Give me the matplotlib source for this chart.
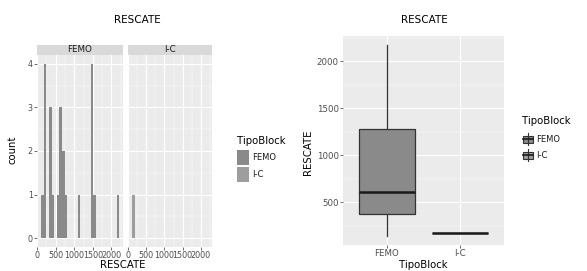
import numpy as np
import matplotlib.pyplot as plt
from matplotlib.patches import Rectangle
from matplotlib.lines import Line2D

groups = ["FEMO", "I-C"]
femo_rescate = [145, 205, 215, 230, 240, 365, 375, 385, 420, 570, 605, 612, 650,
                690, 720, 770, 1110, 1450, 1470, 1480, 1495, 1530, 2170]
ic_rescate = [175]
fill_colors = {"FEMO": "#8a8a8a", "I-C": "#9e9e9e"}
x_breaks = [0, 500, 1000, 1500, 2000]
count_breaks = [0, 1, 2, 3, 4]
box_breaks = [500, 1000, 1500, 2000]

W, H = 587, 271
fig = plt.figure(figsize=(W / 100, H / 100), dpi=100)


def px_box(x0, y0, x1, y1):
    # pixel box (top-left origin) -> figure fraction rect
    return [x0 / W, 1 - y1 / H, (x1 - x0) / W, (y1 - y0) / H]


def ftext(x, y, s, **kw):
    fig.text(x / W, 1 - y / H, s, **kw)


def gg_style(ax, lsize=5.8):
    ax.set_facecolor("#ebebeb")
    for s in ax.spines.values():
        s.set_visible(False)
    ax.grid(which="major", color="white", lw=0.8)
    ax.grid(which="minor", color="white", lw=0.35)
    ax.set_axisbelow(True)
    ax.tick_params(which="major", length=2, width=0.5, color="#333333",
                   labelsize=lsize, labelcolor="#4d4d4d", pad=1)
    ax.tick_params(which="minor", length=0)


# ---- left: faceted histogram ----
data = {"FEMO": femo_rescate, "I-C": ic_rescate}
all_vals = np.array(femo_rescate + ic_rescate)
lo, hi = all_vals.min(), all_vals.max()
bw = (hi - lo) / 29
edges = lo - bw / 2 + bw * np.arange(31)
span = edges[-1] - edges[0]

panels = [(37, 123), (128, 212)]
for i, g in enumerate(groups):
    x0, x1 = panels[i]
    ax = fig.add_axes(px_box(x0, 55, x1, 247))
    gg_style(ax)
    ax.hist(data[g], bins=edges, color=fill_colors[g], edgecolor="none")
    ax.set_xlim(-5, edges[-1] + 0.05 * span)
    ax.set_ylim(-0.2, 4.2)
    ax.set_xticks(x_breaks)
    ax.set_xticks([250, 750, 1250, 1750, 2250], minor=True)
    ax.set_yticks(count_breaks)
    ax.set_yticks([0.5, 1.5, 2.5, 3.5], minor=True)
    if i > 0:
        ax.tick_params(axis="y", which="both", left=False, labelleft=False)
    # strip
    sax = fig.add_axes(px_box(x0, 45, x1, 55))
    sax.set_facecolor("#d9d9d9")
    sax.set_xticks([])
    sax.set_yticks([])
    for s in sax.spines.values():
        s.set_visible(False)
    sax.text(0.5, 0.5, g, transform=sax.transAxes, ha="center", va="center",
             fontsize=6.3, color="#1a1a1a")

ftext(137, 20, "RESCATE", ha="center", va="center", fontsize=7.5)
ftext(12, 150, "count", ha="center", va="center", rotation=90, fontsize=7.3)
ftext(123, 265, "RESCATE", ha="center", va="center", fontsize=7.3)

# left legend
ftext(237, 141, "TipoBlock", ha="left", va="center", fontsize=7.3)
for k, g in enumerate(groups):
    ky = 150 + k * 17
    fig.add_artist(Rectangle((237 / W, 1 - (ky + 15) / H), 12 / W, 15 / H,
                             transform=fig.transFigure, facecolor=fill_colors[g],
                             edgecolor="none"))
    ftext(252, ky + 7.5, g, ha="left", va="center", fontsize=6, color="#1a1a1a")

# ---- right: boxplot ----
bx = fig.add_axes(px_box(343, 36, 504, 245))
gg_style(bx, 6.2)
bp = bx.boxplot([femo_rescate, ic_rescate], positions=[1, 2], widths=0.77,
                patch_artist=True, showcaps=False, showfliers=False, whis=1.5,
                medianprops=dict(color="#1a1a1a", lw=1.8),
                whiskerprops=dict(color="#333333", lw=0.9))
for patch, g in zip(bp["boxes"], groups):
    patch.set_facecolor(fill_colors[g])
    patch.set_edgecolor("#333333")
    patch.set_linewidth(0.9)
rng = hi - lo
bx.set_ylim(lo - 0.05 * rng, hi + 0.05 * rng)
bx.set_xlim(0.4, 2.6)
bx.set_xticks([1, 2])
bx.set_xticklabels(groups)
bx.set_yticks(box_breaks)
bx.set_yticks([250, 750, 1250, 1750, 2250], minor=True)
bx.grid(axis="x", which="minor", visible=False)

ftext(424, 20, "RESCATE", ha="center", va="center", fontsize=7.5)
ftext(308, 152, "RESCATE", ha="center", va="center", rotation=90, fontsize=7.3)
ftext(423, 265, "TipoBlock", ha="center", va="center", fontsize=7.3)

# right legend
ftext(522, 121, "TipoBlock", ha="left", va="center", fontsize=7.3)
for k, g in enumerate(groups):
    cy = 139 + k * 16
    cx = 527.5
    fig.add_artist(Line2D([cx / W, cx / W], [1 - (cy - 6) / H, 1 - (cy + 6) / H],
                          transform=fig.transFigure, color="#333333", lw=0.8))
    fig.add_artist(Rectangle(((cx - 5) / W, 1 - (cy + 3.5) / H), 10 / W, 7 / H,
                             transform=fig.transFigure, facecolor=fill_colors[g],
                             edgecolor="#333333", lw=0.8))
    fig.add_artist(Line2D([(cx - 5) / W, (cx + 5) / W], [1 - cy / H, 1 - cy / H],
                          transform=fig.transFigure, color="#1a1a1a", lw=1.2))
    ftext(536, cy, g, ha="left", va="center", fontsize=6, color="#1a1a1a")

fig.savefig("out.png", dpi=100)
